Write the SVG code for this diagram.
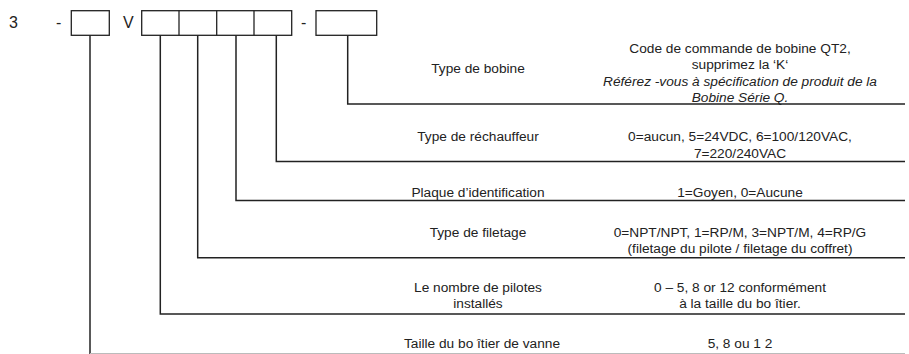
<svg xmlns="http://www.w3.org/2000/svg" width="909" height="354" viewBox="0 0 909 354">
<style>
text{font-family:"Liberation Sans",Arial,sans-serif;font-size:13.7px;fill:#222}
.c{text-anchor:middle}
.i{font-style:italic}
.big{font-size:16px}
.box{fill:none;stroke:#222;stroke-width:1.3}
.ln{fill:none;stroke:#222;stroke-width:1.5}
</style>
<rect width="909" height="354" fill="#fff"/>
<g id="code">
<text class="big" x="9" y="28">3</text>
<text class="big" x="56" y="28">-</text>
<rect class="box" x="71.3" y="10.7" width="38" height="24.6"/>
<text class="big" x="123" y="28">V</text>
<rect class="box" x="141.7" y="10.7" width="150" height="24.6"/>
<line class="box" x1="179" y1="10.7" x2="179" y2="35.3"/>
<line class="box" x1="216.7" y1="10.7" x2="216.7" y2="35.3"/>
<line class="box" x1="254" y1="10.7" x2="254" y2="35.3"/>
<text class="big" x="301" y="28">-</text>
<rect class="box" x="316" y="10.7" width="60.7" height="24.6"/>
</g>
<g id="connectors">
<polyline class="ln" points="347.7,35.3 347.7,104 905,104"/>
<polyline class="ln" points="276.3,35.3 276.3,161.5 905,161.5"/>
<polyline class="ln" points="236,35.3 236,200.5 905,200.5"/>
<polyline class="ln" points="197.7,35.3 197.7,257.7 905,257.7"/>
<polyline class="ln" points="160.3,35.3 160.3,314 905,314"/>
<polyline class="ln" points="90,35.3 90,354"/>
<line x1="90" y1="353.5" x2="905" y2="353.5" stroke="#bbb" stroke-width="1"/>
</g>
<g id="row-bobine">
<text class="c" x="478" y="72.7">Type de bobine</text>
<text class="c" x="740" y="52.7">Code de commande de bobine QT2,</text>
<text class="c" x="740" y="69.3">supprimez la ‘K‘</text>
<text class="c i" x="740" y="86.3">Référez -vous à spécification de produit de la</text>
<text class="c i" x="740" y="102.3">Bobine Série Q.</text>
</g>
<g id="row-rechauffeur">
<text class="c" x="478" y="141">Type de réchauffeur</text>
<text class="c" x="740" y="141">0=aucun, 5=24VDC, 6=100/120VAC,</text>
<text class="c" x="740" y="157.5">7=220/240VAC</text>
</g>
<g id="row-plaque">
<text class="c" x="478" y="196.7">Plaque d’identification</text>
<text class="c" x="740" y="196.7">1=Goyen, 0=Aucune</text>
</g>
<g id="row-filetage">
<text class="c" x="478" y="236.7">Type de filetage</text>
<text class="c" x="740" y="236.7">0=NPT/NPT, 1=RP/M, 3=NPT/M, 4=RP/G</text>
<text class="c" x="740" y="252.7">(filetage du pilote / filetage du coffret)</text>
</g>
<g id="row-pilotes">
<text class="c" x="478" y="292">Le nombre de pilotes</text>
<text class="c" x="478" y="308.3">installés</text>
<text class="c" x="740" y="292">0 – 5, 8 or 12 conformément</text>
<text class="c" x="740" y="308.3">à la taille du bo îtier.</text>
</g>
<g id="row-taille">
<text class="c" x="482" y="348.3">Taille du bo îtier de vanne</text>
<text class="c" x="740" y="348.3">5, 8 ou 1 2</text>
</g>
</svg>
